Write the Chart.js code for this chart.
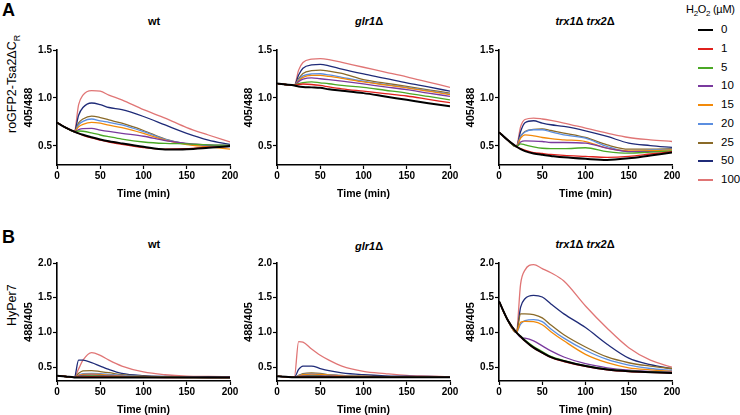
<!DOCTYPE html>
<html>
<head>
<meta charset="utf-8">
<script src="https://cdn.jsdelivr.net/npm/chart.js@4.4.0/dist/chart.umd.min.js"></script>
<style>
  body { margin: 0; background: #fff; font-family: "Liberation Sans", Arial, sans-serif; }
  #page { position: relative; width: 740px; height: 415px; overflow: hidden; }
  canvas { position: absolute; }
  .lbl { position: absolute; white-space: nowrap; color: #000; }
  .title { font-weight: bold; font-size: 11px; transform: translateX(-50%); }
  .letter { font-weight: bold; font-size: 18px; }
  .side { font-size: 12.5px; transform-origin: 0 0; transform: rotate(-90deg); }
  .leg { font-size: 11.5px; }
  .legline { position: absolute; height: 2px; width: 15px; }
</style>
</head>
<body>
<div id="page">
  <div class="lbl letter" style="left:2px;top:0px;">A</div>
  <div class="lbl letter" style="left:2px;top:227px;">B</div>

  <div class="lbl side" style="left:5px;top:133px;">roGFP2-Tsa2&Delta;C<sub style="font-size:9px">R</sub></div>
  <div class="lbl side" style="left:5px;top:326px;">HyPer7</div>

  <div class="lbl title" style="left:154px;top:15px;">wt</div>
  <div class="lbl title" style="left:369px;top:15px;"><i>glr1</i>&Delta;</div>
  <div class="lbl title" style="left:585px;top:15px;"><i>trx1</i>&Delta; <i>trx2</i>&Delta;</div>
  <div class="lbl title" style="left:154px;top:238px;">wt</div>
  <div class="lbl title" style="left:369px;top:240px;"><i>glr1</i>&Delta;</div>
  <div class="lbl title" style="left:585px;top:238px;"><i>trx1</i>&Delta; <i>trx2</i>&Delta;</div>

  <div class="lbl" style="left:686px;top:3px;font-size:11px;letter-spacing:-0.3px;">H<sub style="font-size:8px">2</sub>O<sub style="font-size:8px">2</sub> (&micro;M)</div>
  <div id="legend"></div>

  <canvas id="aWt" width="227" height="158" style="left:15px;top:42px;"></canvas>
  <canvas id="aGlr" width="227" height="158" style="left:235px;top:42px;"></canvas>
  <canvas id="aTrx" width="227" height="158" style="left:457px;top:42px;"></canvas>
  <canvas id="bWt" width="227" height="161" style="left:15px;top:255px;"></canvas>
  <canvas id="bGlr" width="227" height="161" style="left:235px;top:255px;"></canvas>
  <canvas id="bTrx" width="227" height="161" style="left:457px;top:255px;"></canvas>
</div>

<script>
// H2O2 doses (uM) and colours
const doses = ['0', '1', '5', '10', '15', '20', '25', '50', '100'];
const colors = ['#000000', '#e0201c', '#4aa825', '#7a3a9e', '#f28a0a', '#5b8ee0', '#8a6a28', '#1f2b78', '#e07575'];

// time points (min)
const time = [0, 10, 20, 25, 30, 40, 50, 60, 75, 100, 125, 150, 175, 200];
const xTicks = [0, 50, 100, 150, 200];

// A: roGFP2-Tsa2dCR 405/488, one row per dose
const roWt = [
  [0.743, 0.69, 0.648, 0.63, 0.615, 0.59, 0.567, 0.548, 0.525, 0.49, 0.462, 0.465, 0.48, 0.497],
  [0.743, 0.69, 0.648, 0.63, 0.61, 0.582, 0.56, 0.54, 0.515, 0.482, 0.465, 0.47, 0.485, 0.495],
  [0.743, 0.69, 0.648, 0.655, 0.652, 0.635, 0.613, 0.595, 0.57, 0.54, 0.525, 0.52, 0.51, 0.505],
  [0.743, 0.69, 0.648, 0.67, 0.68, 0.682, 0.665, 0.65, 0.63, 0.6, 0.555, 0.525, 0.51, 0.505],
  [0.743, 0.69, 0.648, 0.7, 0.725, 0.745, 0.736, 0.715, 0.69, 0.63, 0.56, 0.514, 0.49, 0.465],
  [0.743, 0.69, 0.648, 0.72, 0.755, 0.78, 0.76, 0.745, 0.718, 0.648, 0.567, 0.518, 0.5, 0.49],
  [0.743, 0.69, 0.648, 0.74, 0.78, 0.81, 0.795, 0.77, 0.736, 0.66, 0.57, 0.52, 0.505, 0.497],
  [0.743, 0.69, 0.648, 0.82, 0.9, 0.947, 0.93, 0.9, 0.877, 0.806, 0.718, 0.63, 0.56, 0.514],
  [0.743, 0.69, 0.648, 0.93, 1.03, 1.077, 1.07, 1.03, 0.98, 0.877, 0.79, 0.69, 0.613, 0.54]
];
const roGlr = [
  [1.15, 1.14, 1.13, 1.12, 1.115, 1.11, 1.105, 1.09, 1.075, 1.05, 1.015, 0.98, 0.945, 0.913],
  [1.15, 1.14, 1.13, 1.14, 1.145, 1.14, 1.13, 1.115, 1.095, 1.07, 1.045, 1.02, 0.985, 0.95],
  [1.15, 1.14, 1.13, 1.15, 1.16, 1.167, 1.157, 1.148, 1.13, 1.11, 1.08, 1.05, 1.015, 0.98],
  [1.15, 1.14, 1.13, 1.17, 1.195, 1.21, 1.2, 1.19, 1.175, 1.146, 1.115, 1.087, 1.05, 1.017],
  [1.15, 1.14, 1.13, 1.18, 1.215, 1.235, 1.235, 1.225, 1.205, 1.167, 1.135, 1.105, 1.07, 1.035],
  [1.15, 1.14, 1.13, 1.19, 1.23, 1.25, 1.252, 1.24, 1.215, 1.174, 1.14, 1.11, 1.075, 1.04],
  [1.15, 1.14, 1.13, 1.2, 1.255, 1.285, 1.29, 1.28, 1.255, 1.19, 1.155, 1.12, 1.085, 1.05],
  [1.15, 1.14, 1.13, 1.24, 1.31, 1.345, 1.35, 1.335, 1.3, 1.25, 1.205, 1.157, 1.115, 1.07],
  [1.15, 1.14, 1.13, 1.29, 1.37, 1.405, 1.41, 1.4, 1.37, 1.32, 1.27, 1.22, 1.165, 1.11]
];
const roTrx = [
  [0.643, 0.56, 0.493, 0.465, 0.445, 0.42, 0.406, 0.395, 0.38, 0.364, 0.353, 0.37, 0.4, 0.43],
  [0.643, 0.56, 0.493, 0.47, 0.455, 0.43, 0.42, 0.41, 0.4, 0.39, 0.38, 0.39, 0.415, 0.44],
  [0.643, 0.56, 0.493, 0.52, 0.51, 0.49, 0.475, 0.47, 0.47, 0.48, 0.44, 0.423, 0.435, 0.448],
  [0.643, 0.56, 0.493, 0.54, 0.552, 0.55, 0.545, 0.535, 0.535, 0.528, 0.475, 0.44, 0.44, 0.44],
  [0.643, 0.56, 0.493, 0.58, 0.615, 0.605, 0.587, 0.575, 0.563, 0.545, 0.475, 0.448, 0.45, 0.458],
  [0.643, 0.56, 0.493, 0.6, 0.645, 0.668, 0.668, 0.645, 0.615, 0.58, 0.493, 0.44, 0.455, 0.465],
  [0.643, 0.56, 0.493, 0.6, 0.65, 0.672, 0.678, 0.66, 0.633, 0.587, 0.51, 0.465, 0.465, 0.47],
  [0.643, 0.56, 0.493, 0.65, 0.74, 0.762, 0.738, 0.72, 0.703, 0.657, 0.598, 0.528, 0.503, 0.483],
  [0.643, 0.56, 0.493, 0.7, 0.775, 0.79, 0.78, 0.765, 0.738, 0.685, 0.633, 0.587, 0.563, 0.545]
];

// B: HyPer7 488/405
const hyWt = [
  [0.377, 0.365, 0.352, 0.35, 0.35, 0.35, 0.35, 0.35, 0.35, 0.35, 0.35, 0.35, 0.35, 0.35],
  [0.377, 0.365, 0.352, 0.355, 0.36, 0.362, 0.36, 0.358, 0.355, 0.352, 0.35, 0.35, 0.35, 0.35],
  [0.377, 0.365, 0.352, 0.36, 0.37, 0.372, 0.37, 0.365, 0.36, 0.355, 0.352, 0.35, 0.35, 0.35],
  [0.377, 0.365, 0.352, 0.37, 0.38, 0.385, 0.38, 0.375, 0.365, 0.357, 0.353, 0.352, 0.35, 0.35],
  [0.377, 0.365, 0.352, 0.38, 0.395, 0.4, 0.395, 0.385, 0.37, 0.36, 0.355, 0.352, 0.35, 0.35],
  [0.377, 0.365, 0.352, 0.385, 0.405, 0.41, 0.405, 0.395, 0.38, 0.362, 0.355, 0.352, 0.35, 0.35],
  [0.377, 0.365, 0.352, 0.41, 0.445, 0.45, 0.436, 0.42, 0.39, 0.37, 0.36, 0.355, 0.352, 0.35],
  [0.377, 0.365, 0.352, 0.6, 0.6, 0.565, 0.515, 0.466, 0.41, 0.377, 0.365, 0.362, 0.358, 0.357],
  [0.377, 0.365, 0.352, 0.475, 0.6, 0.71, 0.67, 0.6, 0.515, 0.43, 0.39, 0.37, 0.365, 0.362]
];
const hyGlr = [
  [0.368, 0.36, 0.353, 0.353, 0.353, 0.353, 0.353, 0.353, 0.353, 0.353, 0.353, 0.353, 0.353, 0.353],
  [0.368, 0.36, 0.353, 0.355, 0.358, 0.36, 0.36, 0.358, 0.356, 0.354, 0.353, 0.353, 0.353, 0.353],
  [0.368, 0.36, 0.353, 0.36, 0.365, 0.37, 0.368, 0.365, 0.36, 0.357, 0.355, 0.354, 0.354, 0.353],
  [0.368, 0.36, 0.353, 0.365, 0.375, 0.38, 0.378, 0.372, 0.365, 0.36, 0.357, 0.355, 0.354, 0.354],
  [0.368, 0.36, 0.353, 0.37, 0.39, 0.4, 0.395, 0.388, 0.375, 0.365, 0.36, 0.357, 0.355, 0.355],
  [0.368, 0.36, 0.353, 0.375, 0.395, 0.405, 0.4, 0.39, 0.378, 0.366, 0.36, 0.357, 0.355, 0.355],
  [0.368, 0.36, 0.353, 0.38, 0.405, 0.417, 0.41, 0.39, 0.38, 0.37, 0.362, 0.358, 0.356, 0.355],
  [0.368, 0.36, 0.353, 0.466, 0.515, 0.515, 0.48, 0.45, 0.417, 0.39, 0.375, 0.37, 0.365, 0.36],
  [0.368, 0.36, 0.353, 0.868, 0.86, 0.76, 0.67, 0.6, 0.515, 0.44, 0.407, 0.38, 0.37, 0.36]
];
const hyTrx = [
  [1.45, 1.18, 1.0, 0.94, 0.88, 0.78, 0.71, 0.645, 0.587, 0.515, 0.466, 0.44, 0.427, 0.417],
  [1.45, 1.18, 1.0, 0.935, 0.875, 0.775, 0.705, 0.64, 0.58, 0.51, 0.462, 0.437, 0.425, 0.415],
  [1.45, 1.18, 1.0, 0.945, 0.89, 0.795, 0.725, 0.655, 0.595, 0.52, 0.47, 0.445, 0.43, 0.42],
  [1.45, 1.18, 1.0, 0.927, 0.917, 0.879, 0.806, 0.733, 0.646, 0.549, 0.49, 0.456, 0.44, 0.427],
  [1.45, 1.18, 1.0, 1.146, 1.16, 1.155, 1.11, 1.01, 0.879, 0.684, 0.563, 0.49, 0.461, 0.44],
  [1.45, 1.18, 1.0, 1.12, 1.17, 1.184, 1.155, 1.05, 0.917, 0.743, 0.61, 0.529, 0.48, 0.451],
  [1.45, 1.18, 1.0, 1.267, 1.267, 1.257, 1.21, 1.107, 0.966, 0.79, 0.646, 0.563, 0.515, 0.48],
  [1.45, 1.18, 1.0, 1.364, 1.485, 1.534, 1.51, 1.41, 1.267, 1.07, 0.83, 0.63, 0.535, 0.476],
  [1.45, 1.18, 1.0, 1.7, 1.898, 1.976, 1.92, 1.86, 1.74, 1.38, 1.06, 0.78, 0.6, 0.5]
];

const roTicks = [0.5, 1.0, 1.5];
const hyTicks = [0.5, 1.0, 1.5, 2.0];

const FONT = '"Liberation Sans", Arial, sans-serif';

// legend
const legend = document.getElementById('legend');
doses.forEach(function (d, i) {
    const y = 30 + i * 18.75;
    const line = document.createElement('div');
    line.className = 'legline';
    line.style.left = '698px';
    line.style.top = (y - 1) + 'px';
    line.style.background = colors[i];
    legend.appendChild(line);
    const txt = document.createElement('div');
    txt.className = 'lbl leg';
    txt.style.left = '721px';
    txt.style.top = (y - 7) + 'px';
    txt.textContent = d;
    legend.appendChild(txt);
});

function makeChart(id, rows, yMax, yTicks, yTitle) {
    const ctx = document.getElementById(id).getContext('2d');
    new Chart(ctx, {
        type: 'line',
        data: {
            labels: time,
            datasets: rows.map(function (row, i) {
                return {
                    label: doses[i],
                    data: row.map(function (v, j) { return { x: time[j], y: v }; }),
                    borderColor: colors[i],
                    borderWidth: i === 0 ? 2 : 1.3,
                    pointRadius: 0,
                    fill: false,
                    cubicInterpolationMode: 'monotone'
                };
            })
        },
        options: {
            responsive: false,
            animation: false,
            layout: { padding: { top: 8, right: 12, left: 0, bottom: 0 } },
            plugins: { legend: { display: false }, tooltip: { enabled: false } },
            scales: {
                x: {
                    type: 'linear',
                    min: 0,
                    max: 200,
                    afterBuildTicks: function (s) { s.ticks = xTicks.map(function (v) { return { value: v }; }); },
                    afterFit: function (s) { s.height = 35; },
                    grid: { display: true, drawOnChartArea: false, color: '#000', tickLength: 4, tickWidth: 1.2 },
                    border: { color: '#000', width: 1.6 },
                    ticks: { color: '#000', padding: 1, maxRotation: 0, font: { family: FONT, size: 10, weight: 'bold' } },
                    title: { display: true, text: 'Time (min)', color: '#000', padding: { top: 1, bottom: 0 },
                             font: { family: FONT, size: 10.5, weight: 'bold' } }
                },
                y: {
                    min: 0.3,
                    max: yMax,
                    afterBuildTicks: function (s) { s.ticks = yTicks.map(function (v) { return { value: v }; }); },
                    afterFit: function (s) { s.width = 42; },
                    grid: { display: true, drawOnChartArea: false, color: '#000', tickLength: 4, tickWidth: 1.2 },
                    border: { color: '#000', width: 1.6 },
                    ticks: { color: '#000', padding: 1, callback: function (v) { return v.toFixed(1); },
                             font: { family: FONT, size: 10, weight: 'bold' } },
                    title: { display: true, text: yTitle, color: '#000', padding: { top: 7, bottom: 0 },
                             font: { family: FONT, size: 11, weight: 'bold' } }
                }
            }
        }
    });
}

makeChart('aWt', roWt, 1.5, roTicks, '405/488');
makeChart('aGlr', roGlr, 1.5, roTicks, '405/488');
makeChart('aTrx', roTrx, 1.5, roTicks, '405/488');
makeChart('bWt', hyWt, 2.0, hyTicks, '488/405');
makeChart('bGlr', hyGlr, 2.0, hyTicks, '488/405');
makeChart('bTrx', hyTrx, 2.0, hyTicks, '488/405');
</script>
</body>
</html>
